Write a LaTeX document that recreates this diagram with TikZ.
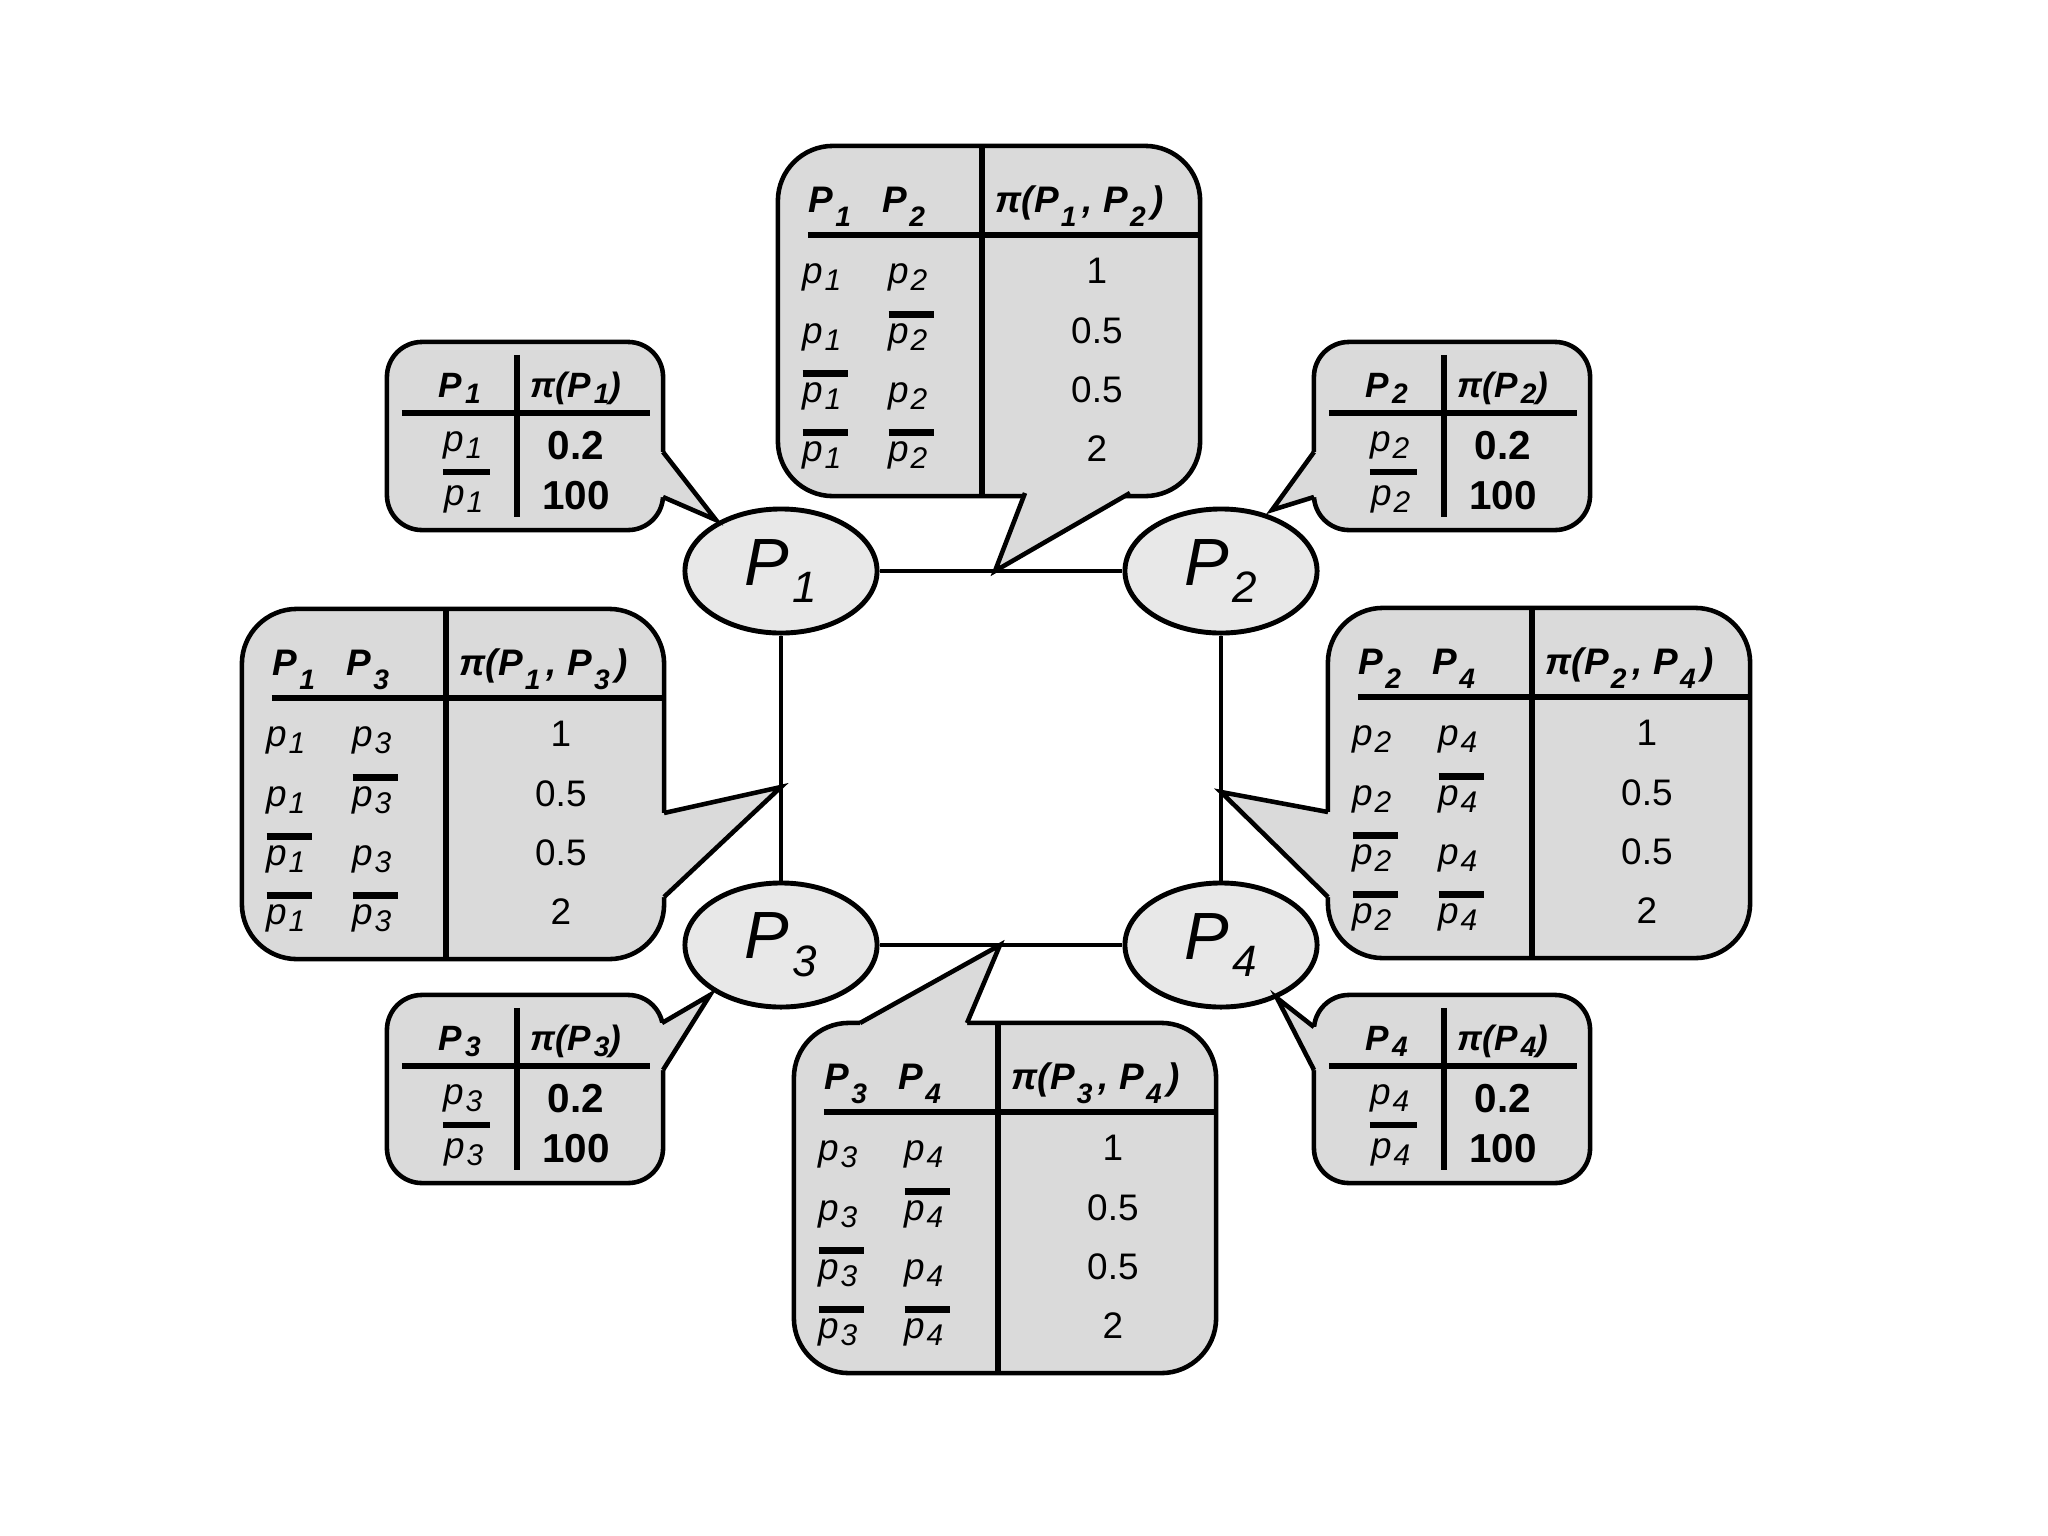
\documentclass[tikz,border=0pt]{standalone}
\usepackage{fontspec}
\setmainfont{Liberation Sans}
\usetikzlibrary{shapes.geometric}
\definecolor{boxfill}{gray}{0.855}
\definecolor{ellfill}{gray}{0.91}
\newcommand\hs[1]{\kern0.6pt\raisebox{-3.8pt}{\fontsize{8}{8}\selectfont #1}}
\newcommand\shs[1]{\kern0.8pt\raisebox{-1.6pt}{\fontsize{8}{8}\selectfont #1}}
\newcommand\ls[1]{\kern0.4pt\raisebox{-2pt}{\fontsize{8.5}{8.5}\selectfont #1}}
\newcommand\ob[1]{\leavevmode\vbox{\hrule height 1.9pt\kern 1.7pt\hbox{#1}}}
\newcommand\bigcontent[3]{%
  \draw[tline] ([shift={(30,89)}]#1.north west) -- ([shift={(0,89)}]#1.north east);
  \draw[tline] ([shift={(204,0)}]#1.north west) -- ([shift={(204,0)}]#1.south west);
  \node[hdr, anchor=base west] (#1ha) at ([shift={(30,67)}]#1.north west) {P\hs{#2}};
  \node[hdr, anchor=base west] (#1hb) at ([shift={(104,67)}]#1.north west) {P\hs{#3}};
  \node[hdr] (#1hp) at ([shift={(302,67)}]#1.north west) {π(P\hs{#2}\,, P\hs{#3}\,)};
  \node[cell] (#1r1a) at ([shift={(24,138)}]#1.north west) {p\ls{#2}};
  \node[cell] (#1r1b) at ([shift={(110,138)}]#1.north west) {p\ls{#3}};
  \node[val] (#1r1v) at ([shift={(319,138)}]#1.north west) {1};
  \node[cell] (#1r2a) at ([shift={(24,198)}]#1.north west) {p\ls{#2}};
  \node[cell] (#1r2b) at ([shift={(110,198)}]#1.north west) {\ob{p\ls{#3}\kern2pt}};
  \node[val] (#1r2v) at ([shift={(319,198)}]#1.north west) {0.5};
  \node[cell] (#1r3a) at ([shift={(24,257)}]#1.north west) {\ob{p\ls{#2}\kern2pt}};
  \node[cell] (#1r3b) at ([shift={(110,257)}]#1.north west) {p\ls{#3}};
  \node[val] (#1r3v) at ([shift={(319,257)}]#1.north west) {0.5};
  \node[cell] (#1r4a) at ([shift={(24,316)}]#1.north west) {\ob{p\ls{#2}\kern2pt}};
  \node[cell] (#1r4b) at ([shift={(110,316)}]#1.north west) {\ob{p\ls{#3}\kern2pt}};
  \node[val] (#1r4v) at ([shift={(319,316)}]#1.north west) {2};
}
\newcommand\smallcontent[2]{%
  \draw[tline] ([shift={(15,71)}]#1.north west) -- ([shift={(-13,71)}]#1.north east);
  \draw[tline] ([shift={(130,13)}]#1.north west) -- ([shift={(130,-13)}]#1.south west);
  \node[shdr] (#1ha) at ([shift={(73,56)}]#1.north west) {P\shs{#2}};
  \node[shdr] (#1hp) at ([shift={(189,56)}]#1.north west) {π(P\shs{#2})};
  \node[scell] (#1r1) at ([shift={(76,110)}]#1.north west) {p\ls{#2}};
  \draw[barline] ([shift={(56,130)}]#1.north west) -- ([shift={(103,130)}]#1.north west);
  \node[scell] (#1r2) at ([shift={(77,164)}]#1.north west) {p\ls{#2}};
  \node[sval] (#1v1) at ([shift={(189,118)}]#1.north west) {0.2};
  \node[sval] (#1v2) at ([shift={(189,168)}]#1.north west) {100};
}
\newcommand\pointer[4]{% base1, tip, base2, inward shift
  \fill[boxfill] ([shift={#4}]#1) -- (#1) -- (#2) -- (#3) -- ([shift={#4}]#3) -- cycle;
  \draw[ptr] (#1) -- (#2) -- (#3);
}
\begin{document}
\begin{tikzpicture}[x=0.01cm,y=-0.01cm,
  bigbox/.style={draw, line width=1.3pt, fill=boxfill, rectangle, rounded corners=0.55cm,
    minimum width=4.22cm, minimum height=3.5cm, inner sep=0, outer sep=0},
  smallbox/.style={draw, line width=1.3pt, fill=boxfill, rectangle, rounded corners=0.35cm,
    minimum width=2.76cm, minimum height=1.88cm, inner sep=0, outer sep=0},
  var/.style={draw, line width=1.4pt, fill=ellfill, ellipse, minimum width=1.92cm,
    minimum height=1.24cm, inner sep=0, font=\fontsize{19}{20}\selectfont\itshape},
  edge/.style={line width=1.1pt},
  tline/.style={line width=1.8pt},
  barline/.style={line width=1.9pt},
  ptr/.style={line width=1.3pt, line join=miter},
  hdr/.style={font=\fontsize{10.5}{12}\selectfont\bfseries\itshape, inner sep=0, anchor=base},
  cell/.style={font=\fontsize{10.5}{12}\selectfont\itshape, inner sep=0, anchor=base west},
  val/.style={font=\fontsize{10.5}{12}\selectfont, inner sep=0, anchor=base},
  shdr/.style={font=\fontsize{10}{12}\selectfont\bfseries\itshape, inner sep=0, anchor=base},
  scell/.style={font=\fontsize{10.5}{12}\selectfont\itshape, inner sep=0, anchor=base},
  sval/.style={font=\fontsize{11.5}{12}\selectfont\bfseries, inner sep=0, anchor=base},
]
\useasboundingbox (0,0) rectangle (2048,1536);
\fill[white] (0,0) rectangle (2048,1536);

% variables
\node[var] (P1) at (781,571) {P\kern1pt\raisebox{-5pt}{\fontsize{12.5}{12}\selectfont 1}};
\node[var] (P2) at (1221,571) {P\kern1pt\raisebox{-5pt}{\fontsize{12.5}{12}\selectfont 2}};
\node[var] (P3) at (781,945) {P\kern1pt\raisebox{-5pt}{\fontsize{12.5}{12}\selectfont 3}};
\node[var] (P4) at (1221,945) {P\kern1pt\raisebox{-5pt}{\fontsize{12.5}{12}\selectfont 4}};

\draw[edge] (P1) -- (P2);
\draw[edge] (P3) -- (P4);
\draw[edge] (P1) -- (P3);
\draw[edge] (P2) -- (P4);

% tips
\coordinate (t12) at (995,571);
\coordinate (t34) at (1000,945);
\coordinate (t13) at (781,787);
\coordinate (t24) at (1221,792);
\coordinate (t1) at (716,520);
\coordinate (t2) at (1272,510);
\coordinate (t3) at (710,995);
\coordinate (t4) at (1277,998);

% boxes
\node[bigbox] (B12) at (989,321) {};
\node[bigbox] (B13) at (453,784) {};
\node[bigbox] (B24) at (1539,783) {};
\node[bigbox] (B34) at (1005,1198) {};
\node[smallbox] (S1) at (525,436) {};
\node[smallbox] (S2) at (1452,436) {};
\node[smallbox] (S3) at (525,1089) {};
\node[smallbox] (S4) at (1452,1089) {};

% pointer bases
\coordinate (a12) at (1025,493); \coordinate (b12) at (1130,493);
\coordinate (a34) at (860,1023); \coordinate (b34) at (967,1023);
\coordinate (a13) at (664,813);  \coordinate (b13) at (664,897);
\coordinate (a24) at (1328,812); \coordinate (b24) at (1328,897);
\coordinate (a1) at (663,452);   \coordinate (b1) at (663,497);
\coordinate (a2) at (1314,452);  \coordinate (b2) at (1314,497);
\coordinate (a3) at (662,1023);  \coordinate (b3) at (663,1070);
\coordinate (a4) at (1314,1027); \coordinate (b4) at (1314,1070);

\pointer{a12}{t12}{b12}{(0,-10)}
\pointer{a34}{t34}{b34}{(0,10)}
\pointer{a13}{t13}{b13}{(-10,0)}
\pointer{a24}{t24}{b24}{(10,0)}
\pointer{a1}{t1}{b1}{(-10,0)}
\pointer{a2}{t2}{b2}{(10,0)}
\pointer{a3}{t3}{b3}{(-10,0)}
\pointer{a4}{t4}{b4}{(10,0)}

\bigcontent{B12}{1}{2}
\bigcontent{B13}{1}{3}
\bigcontent{B24}{2}{4}
\bigcontent{B34}{3}{4}
\smallcontent{S1}{1}
\smallcontent{S2}{2}
\smallcontent{S3}{3}
\smallcontent{S4}{4}
\end{tikzpicture}
\end{document}
